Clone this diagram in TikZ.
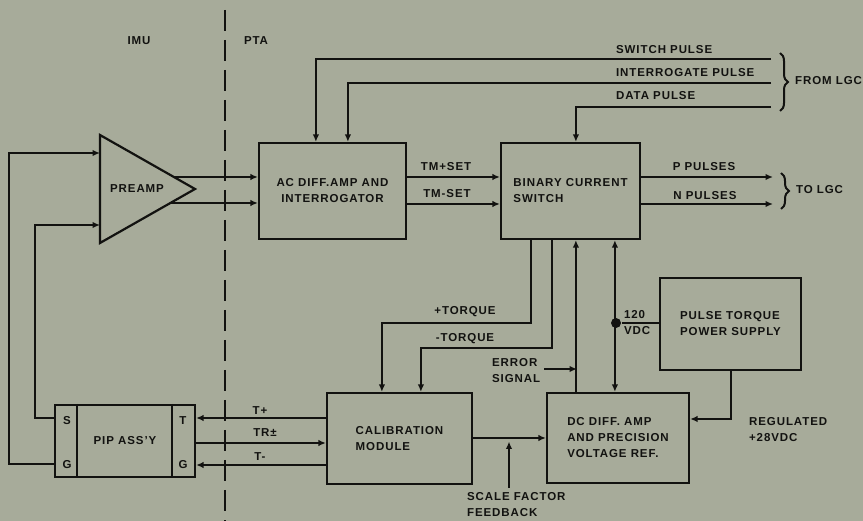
\documentclass[tikz,border=0pt]{standalone}
\usepackage{fontspec}
\setmainfont{Liberation Sans}[LetterSpace=8]
\usetikzlibrary{arrows.meta,calc,decorations.pathreplacing}
\definecolor{bg}{RGB}{167,171,154}
\definecolor{ink}{RGB}{18,18,16}
\newcommand\labfont{\bfseries\fontsize{11.5}{16}\selectfont}
\begin{document}
\begin{tikzpicture}[x=1pt,y=-1pt,line width=2.2pt,color=ink,
  box/.style={draw,rectangle,inner sep=0pt,align=center,font=\labfont},
  lab/.style={font=\labfont,inner sep=0pt},
  arr/.style={-{Latex[length=7.5pt,width=6.5pt]}},
  darr/.style={{Latex[length=7.5pt,width=6.5pt]}-{Latex[length=7.5pt,width=6.5pt]}},
  brc/.style={line width=2pt,decorate,decoration={brace,amplitude=8pt}}]
\useasboundingbox (0,0) rectangle (863,521);
\fill[bg] (0,0) rectangle (863,521);
% boundary
\draw[dash pattern=on 21pt off 9pt] (225,10) -- (225,521);
\node[lab] (imu) at (139,41) {IMU};
\node[lab] (pta) at (256,41) {PTA};
% preamp
\coordinate (ptl) at (100,135);
\coordinate (pbl) at (100,243);
\coordinate (ptip) at (195,189);
\draw[line join=miter] (ptl) -- (ptip) -- (pbl) -- cycle;
\node[lab] (preamp) at (137,189) {PREAMP};
\coordinate (po1) at (174,177);
\coordinate (po2) at (171,203);
\coordinate (pi1) at (100,153);
\coordinate (pi2) at (100,225);
% boxes
\node[box,minimum width=147pt,minimum height=96pt] (ac) at (332.5,191) {AC DIFF.AMP AND\\INTERROGATOR};
\node[box,align=left,minimum width=139pt,minimum height=96pt] (bin) at (570.5,191) {BINARY CURRENT\\SWITCH};
\node[box,align=left,minimum width=145pt,minimum height=91pt] (cal) at (399.5,438.5) {CALIBRATION\\MODULE};
\node[box,align=left,minimum width=142pt,minimum height=90pt] (dc) at (618,438) {DC DIFF. AMP\\AND PRECISION\\VOLTAGE REF.};
\node[box,align=left,minimum width=141pt,minimum height=92pt] (ps) at (730.5,324) {PULSE TORQUE\\POWER SUPPLY};
\node[box,minimum width=140pt,minimum height=72pt] (pip) at (125,441) {PIP ASS'Y};
\draw ([xshift=23pt]pip.north west) -- ([xshift=23pt]pip.south west);
\draw ([xshift=-24pt]pip.north east) -- ([xshift=-24pt]pip.south east);
\node[lab] (ps1) at (67,421) {S};
\node[lab] (pg1) at (67,465) {G};
\node[lab] (pt1) at (183,421) {T};
\node[lab] (pg2) at (183,465) {G};
% top inputs from LGC
\coordinate (swe) at (771,59);
\coordinate (ine) at (771,83);
\coordinate (dae) at (771,107);
\draw[arr] (swe) -| ([xshift=58pt]ac.north west);
\draw[arr] (ine) -| ([xshift=90pt]ac.north west);
\draw[arr] (dae) -| ([xshift=76pt]bin.north west);
\node[lab,anchor=west] (lsw) at (615,50) {SWITCH PULSE};
\node[lab,anchor=west] (lin) at (615,73) {INTERROGATE PULSE};
\node[lab,anchor=west] (lda) at (615,96) {DATA PULSE};
\coordinate (fb1) at (780,53);
\coordinate (fb2) at (780,111);
\draw[brc] (fb1) -- (fb2);
\node[lab,anchor=west] (from) at (794,81) {FROM LGC};
% preamp to AC
\draw[arr] (po1) -- (po1 -| ac.west);
\draw[arr] (po2) -- (po2 -| ac.west);
% AC to binary
\draw[arr] ([yshift=14pt]ac.east) -- ([yshift=14pt]bin.west);
\draw[arr] ([yshift=-13pt]ac.east) -- ([yshift=-13pt]bin.west);
\node[lab] (ltp) at (446,167) {TM+SET};
\node[lab] (ltm) at (447,194) {TM-SET};
% binary to LGC
\coordinate (pe) at (773,177);
\coordinate (ne) at (773,204);
\draw[arr] ([yshift=14pt]bin.east) -- (pe);
\draw[arr] ([yshift=-13pt]bin.east) -- (ne);
\node[lab] (lpp) at (704,167) {P PULSES};
\node[lab] (lnp) at (705,196) {N PULSES};
\coordinate (tb1) at (781,173);
\coordinate (tb2) at (781,209);
\draw[brc] (tb1) -- (tb2);
\node[lab,anchor=west] (to) at (795,190) {TO LGC};
% torque lines
\draw[arr] ([xshift=31pt]bin.south west) -- ++(0,83) -| ([xshift=56pt]cal.north west);
\draw[arr] ([xshift=52pt]bin.south west) -- ++(0,108) -| ([xshift=95pt]cal.north west);
\node[lab] (lpt) at (465,312) {+TORQUE};
\node[lab] (lmt) at (465,339) {-TORQUE};
% error signal
\draw[arr] ([xshift=30pt]dc.north west) -- ([xshift=76pt]bin.south west);
\node[lab,align=left,anchor=west] (err) at (491,370.5) {ERROR\\SIGNAL};
\coordinate (eline) at (577,369);
\draw[arr] ($(err.east |- eline)+(3,0)$) -- (eline);
% 120 VDC
\draw[darr] ([xshift=115pt]bin.south west) -- ([xshift=69pt]dc.north west);
\node[circle,fill,inner sep=0pt,minimum size=10pt] (dot) at (616,323) {};
\draw (dot) -- (dot -| ps.west);
\node[lab,align=left,anchor=west] (lvdc) at (623,322.5) {120\\VDC};
% power supply to DC
\draw[arr] ([xshift=72pt]ps.south west) |- ($(dc.east)+(0,-19)$);
\node[lab,align=left,anchor=west] (lreg) at (748,429.5) {REGULATED\\+28VDC};
% calibration to DC
\draw[arr] ($(cal.east)+(0,-0.5)$) -- ($(cal.east -| dc.west)+(0,-0.5)$);
\coordinate (sf) at (509,488);
\draw[arr] (sf) -- ($(sf |- cal.east)+(0,3)$);
\node[lab,align=left,anchor=west] (lsf) at (466,505) {SCALE FACTOR\\FEEDBACK};
% PIP to calibration
\coordinate (ctp) at ($(cal.west)+(0,-20.5)$);
\coordinate (ctr) at ($(cal.west)+(0,4.5)$);
\coordinate (ctm) at ($(cal.west)+(0,26.5)$);
\draw[arr] (ctp) -- (ctp -| pip.east);
\draw[arr] (ctr -| pip.east) -- (ctr);
\draw[arr] (ctm) -- (ctm -| pip.east);
\node[lab] (ltpl) at (260,411) {T+};
\node[lab] (ltr) at (265,433) {TR±};
\node[lab] (ltmi) at (260,457) {T-};
% PIP to preamp
\draw[arr] ([yshift=-23pt]pip.west) -- ++(-45,0) |- (pi1);
\draw[arr] ([yshift=23pt]pip.west) -- ++(-19,0) |- (pi2);
\end{tikzpicture}
\end{document}
